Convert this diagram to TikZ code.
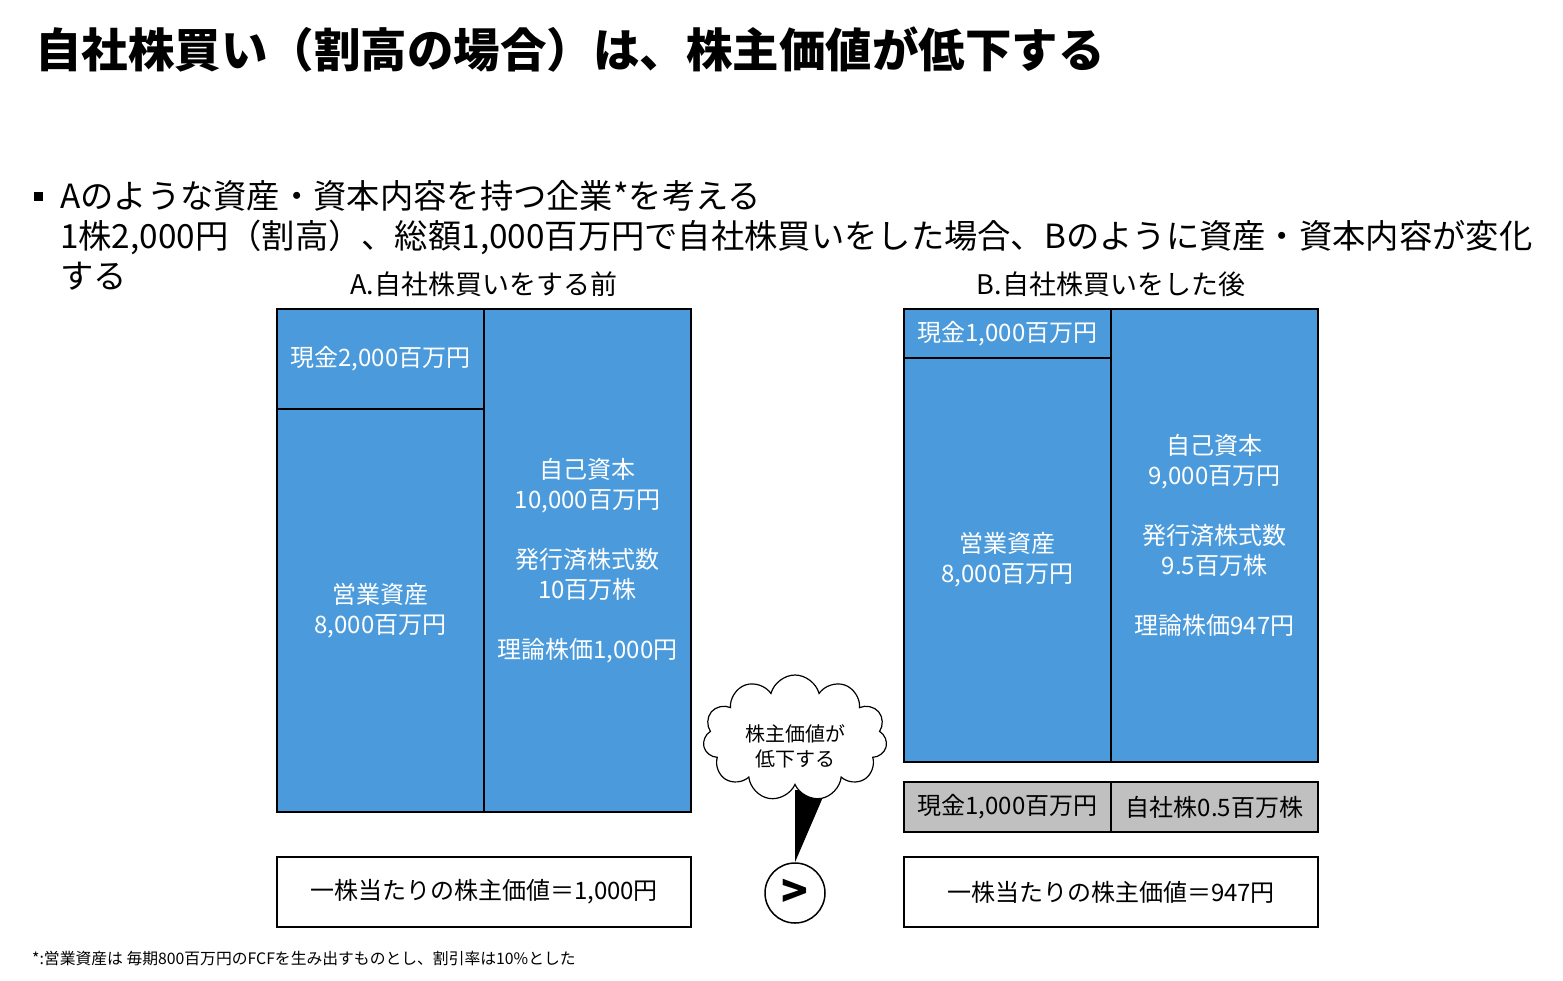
\documentclass[tikz,border=0pt]{standalone}
\usepackage{fontspec}
\setmainfont{Noto Sans CJK JP}
\usetikzlibrary{shapes.symbols}
\definecolor{assetblue}{RGB}{75,155,220}
\definecolor{stockgray}{RGB}{192,192,192}

\begin{document}
\begin{tikzpicture}[x=1pt,y=-1pt,
    cell/.style={draw,line width=2pt,fill=assetblue,text=white,inner sep=0pt,
        align=center,font=\fontsize{24}{30}\selectfont},
    graycell/.style={cell,fill=stockgray,text=black},
    valuebox/.style={draw,line width=2pt,fill=white,inner sep=0pt,
        minimum width=414pt,minimum height=70pt,font=\fontsize{24}{30}\selectfont},
    header/.style={font=\fontsize{27}{32}\selectfont},
    bullettext/.style={anchor=west,inner sep=0pt,font=\fontsize{33.3}{40}\selectfont}]
    \useasboundingbox (0,0) rectangle (1563,980);

    % title
    \node[anchor=west,inner sep=0pt,font=\fontsize{46.5}{50}\selectfont\bfseries] (title) at (35,50)
        {自社株買い（割高の場合）は、株主価値が低下する};

    % bullet text
    \fill (34,192) rectangle (43,201);
    \node[bullettext] (line1) at (60,196) {Aのような資産・資本内容を持つ企業*を考える};
    \node[bullettext] (line2) at (60,237) {1株2,000円（割高）、総額1,000百万円で自社株買いをした場合、Bのように資産・資本内容が変化};
    \node[bullettext] (line3) at (60,276) {する};

    % A: before the buyback
    \node[header] (ahead) at (484,284) {A.自社株買いをする前};
    \node[cell,minimum width=207pt,minimum height=100pt] (acash) at (380.5,359) {現金2,000百万円};
    \node[cell,minimum width=207pt,minimum height=403pt] (aop) at (380.5,610.5) {営業資産\\8,000百万円};
    \node[cell,minimum width=207pt,minimum height=503pt] (aeq) at (587.5,560.5)
        {自己資本\\10,000百万円\\[30pt]発行済株式数\\10百万株\\[30pt]理論株価1,000円};
    \node[valuebox] (avalue) at (484,892) {一株当たりの株主価値＝1,000円};

    % B: after the buyback
    \node[header] (bhead) at (1111,284) {B.自社株買いをした後};
    \node[cell,minimum width=207pt,minimum height=49pt] (bcash) at (1007.5,333.5) {現金1,000百万円};
    \node[cell,minimum width=207pt,minimum height=404pt] (bop) at (1007.5,560) {営業資産\\8,000百万円};
    \node[cell,minimum width=207pt,minimum height=453pt] (beq) at (1214.5,535.5)
        {自己資本\\9,000百万円\\[30pt]発行済株式数\\9.5百万株\\[30pt]理論株価947円};
    \node[graycell,minimum width=207pt,minimum height=50pt] (gcash) at (1007.5,807) {現金1,000百万円};
    \node[graycell,minimum width=207pt,minimum height=50pt] (gstock) at (1214.5,807) {自社株0.5百万株};
    \node[valuebox] (bvalue) at (1111,892) {一株当たりの株主価値＝947円};

    % comparison
    \node[draw,circle,line width=1.5pt,minimum size=60pt,inner sep=0pt,
        font=\fontsize{44}{44}\selectfont\bfseries] (cmp) at (795,893) {>};
    \coordinate (tipl) at (795,790);
    \coordinate (tipr) at (826,790);
    \fill (tipl) -- (tipr) -- (cmp.north) -- cycle;
    \node[draw,cloud,cloud puffs=11,aspect=1.5,fill=white,line width=1.2pt,
        minimum width=184pt,minimum height=126pt,inner sep=0pt] (bubble) at (795,738) {};
    \node[align=center,font=\fontsize{20}{25}\selectfont] (bubbletext)
        at ([yshift=-8pt]bubble.center) {株主価値が\\低下する};

    % footnote
    \node[anchor=west,inner sep=0pt,font=\fontsize{15.8}{18}\selectfont] (note) at (32,958)
        {*:営業資産は 毎期800百万円のFCFを生み出すものとし、割引率は10\%とした};
\end{tikzpicture}
\end{document}
